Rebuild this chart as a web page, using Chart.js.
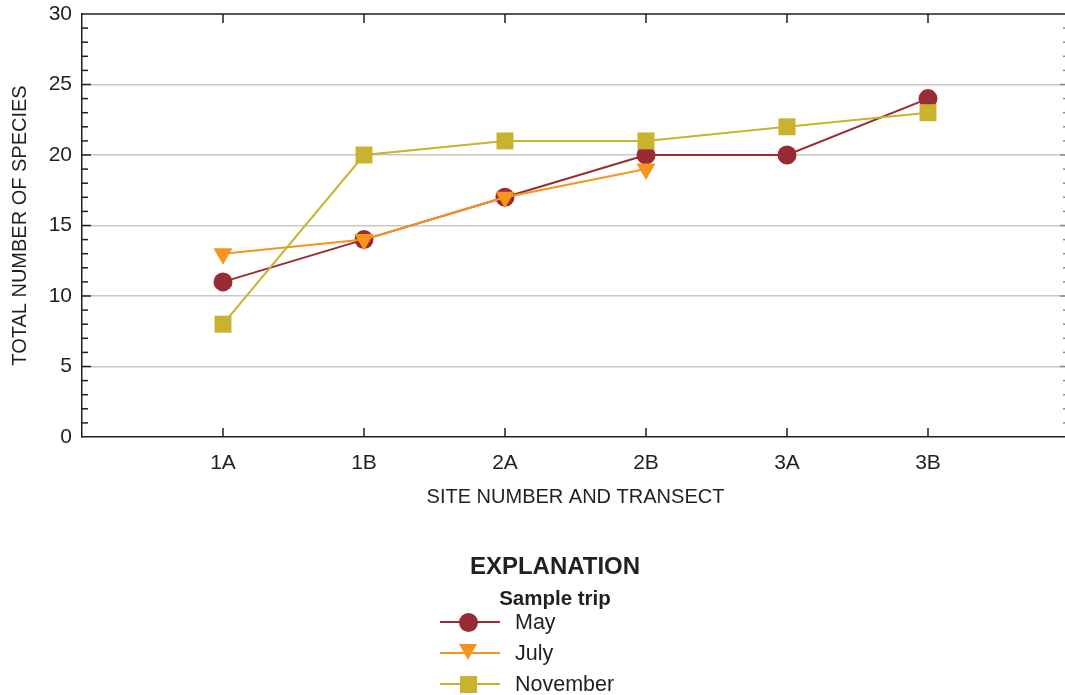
<!DOCTYPE html>
<html>
<head>
<meta charset="utf-8">
<script src="https://cdn.jsdelivr.net/npm/chart.js@4/dist/chart.umd.min.js"></script>
<style>
  html, body { margin: 0; padding: 0; background: #fff; overflow: hidden; }
  #wrap { position: relative; width: 1085px; height: 695px; }
  #legend { position: absolute; left: 0; top: 0; width: 1085px; height: 695px; font-family: "Liberation Sans", Arial, sans-serif; color: #231f20; pointer-events: none; }
  #legend .head { position: absolute; left: 405px; width: 300px; top: 552px; line-height: 28px; text-align: center; font-weight: bold; font-size: 24px; }
  #legend .sub { position: absolute; left: 405px; width: 300px; top: 587px; line-height: 22px; text-align: center; font-weight: bold; font-size: 20.5px; }
  .row { position: absolute; left: 440px; height: 30px; width: 300px; }
  .row .ln { position: absolute; left: 0; top: 14px; width: 60px; height: 2px; }
  .row .mk { position: absolute; }
  .row .tx { position: absolute; left: 75px; top: 2px; line-height: 26px; font-size: 21.5px; }
</style>
</head>
<body>
<div id="wrap">
  <canvas id="myChart" width="1085" height="695"></canvas>
  <div id="legend">
    <div class="head">EXPLANATION</div>
    <div class="sub">Sample trip</div>
  </div>
</div>
<script>
const sites = ['1A', '1B', '2A', '2B', '3A', '3B'];
const may = [11, 14, 17, 20, 20, 24];
const july = [13, 14, 17, 19, null, null];
const november = [8, 20, 21, 21, 22, 23];

const mayColor = 'rgb(152, 43, 52)';
const julyColor = 'rgb(247, 148, 29)';
const novColor = 'rgb(201, 178, 46)';
const textColor = '#231f20';
const fontFamily = '"Liberation Sans", Arial, sans-serif';

function toPoints(values) {
  let points = [];
  values.forEach((v, i) => {
    points.push({ x: i + 1, y: v });
  });
  return points;
}

// frame, inner ticks on all four sides
const frameTicks = {
  id: 'frameTicks',
  beforeDatasetsDraw(chart) {
    const { ctx, chartArea, scales } = chart;
    const x = scales.x, y = scales.y;
    ctx.save();
    ctx.lineWidth = 1.5;
    ctx.strokeStyle = textColor;
    ctx.beginPath();
    ctx.moveTo(chartArea.left, chartArea.top);
    ctx.lineTo(chartArea.right, chartArea.top);
    ctx.lineTo(chartArea.right, chartArea.bottom);
    ctx.stroke();
    for (let v = 1; v < 30; v++) {
      const py = y.getPixelForValue(v);
      const len = v % 5 === 0 ? 9 : 6;
      ctx.strokeStyle = textColor;
      ctx.beginPath();
      ctx.moveTo(chartArea.left, py);
      ctx.lineTo(chartArea.left + len, py);
      ctx.stroke();
      ctx.strokeStyle = '#888';
      ctx.beginPath();
      ctx.moveTo(chartArea.right, py);
      ctx.lineTo(chartArea.right - len, py);
      ctx.stroke();
    }
    ctx.strokeStyle = textColor;
    sites.forEach((s, i) => {
      const px = x.getPixelForValue(i + 1);
      ctx.beginPath();
      ctx.moveTo(px, chartArea.bottom);
      ctx.lineTo(px, chartArea.bottom - 9);
      ctx.moveTo(px, chartArea.top);
      ctx.lineTo(px, chartArea.top + 9);
      ctx.stroke();
    });
    ctx.restore();
  }
};

const ctx = document.getElementById('myChart');

const myChart = new Chart(ctx, {
  type: 'line',
  data: {
    datasets: [{
      label: 'May',
      data: toPoints(may),
      borderColor: mayColor,
      backgroundColor: mayColor,
      pointStyle: 'circle',
      pointRadius: 9.5,
      order: 3
    }, {
      label: 'July',
      data: toPoints(july),
      borderColor: julyColor,
      backgroundColor: julyColor,
      pointStyle: 'triangle',
      rotation: 180,
      pointRadius: 11,
      order: 2
    }, {
      label: 'November',
      data: toPoints(november),
      borderColor: novColor,
      backgroundColor: novColor,
      pointStyle: 'rect',
      pointRadius: 12,
      order: 1
    }]
  },
  options: {
    responsive: false,
    animation: false,
    layout: { padding: { left: 8, top: 14, right: 16, bottom: 186 } },
    elements: {
      line: { borderWidth: 2, tension: 0 },
      point: { borderWidth: 0 }
    },
    plugins: {
      legend: { display: false },
      tooltip: { enabled: false }
    },
    scales: {
      x: {
        type: 'linear',
        min: 0,
        max: 7,
        afterFit: s => { s.height = 72; s.paddingLeft = 0; s.paddingRight = 0; },
        grid: { display: false, drawTicks: false },
        border: { color: textColor, width: 1.5 },
        ticks: {
          stepSize: 1,
          padding: 14,
          color: textColor,
          font: { family: fontFamily, size: 21 },
          callback: v => sites[v - 1] || ''
        },
        title: {
          display: true,
          text: 'SITE NUMBER AND TRANSECT',
          color: textColor,
          font: { family: fontFamily, size: 20 },
          padding: { top: 0, bottom: 0 }
        }
      },
      y: {
        min: 0,
        max: 30,
        afterFit: s => { s.width = 74; s.paddingTop = 0; s.paddingBottom = 0; },
        grid: {
          drawTicks: false,
          lineWidth: 1.5,
          color: c => (c.tick.value === 0 || c.tick.value === 30) ? 'rgba(0,0,0,0)' : '#c8c8c8'
        },
        border: { color: textColor, width: 1.5 },
        ticks: {
          stepSize: 5,
          padding: 10,
          color: textColor,
          font: { family: fontFamily, size: 21 }
        },
        title: {
          display: true,
          text: 'TOTAL NUMBER OF SPECIES',
          color: textColor,
          font: { family: fontFamily, size: 20 },
          padding: { top: 0, bottom: 0 }
        }
      }
    }
  },
  plugins: [frameTicks]
});

// legend built from the chart's datasets
const legendEl = document.getElementById('legend');
myChart.data.datasets.forEach((ds, i) => {
  const row = document.createElement('div');
  row.className = 'row';
  row.style.top = (607 + i * 31) + 'px';
  const ln = document.createElement('div');
  ln.className = 'ln';
  ln.style.background = ds.borderColor;
  const mk = document.createElement('div');
  mk.className = 'mk';
  if (ds.pointStyle === 'circle') {
    Object.assign(mk.style, { left: '18.5px', top: '5.5px', width: '19px', height: '19px', borderRadius: '50%', background: ds.backgroundColor });
  } else if (ds.pointStyle === 'triangle') {
    Object.assign(mk.style, { left: '18.5px', top: '6px', width: 0, height: 0, borderLeft: '9.5px solid transparent', borderRight: '9.5px solid transparent', borderTop: '16.5px solid ' + ds.backgroundColor });
  } else {
    Object.assign(mk.style, { left: '19.5px', top: '6.5px', width: '17px', height: '17px', background: ds.backgroundColor });
  }
  const tx = document.createElement('div');
  tx.className = 'tx';
  tx.textContent = ds.label;
  row.appendChild(ln);
  row.appendChild(mk);
  row.appendChild(tx);
  legendEl.appendChild(row);
});
</script>
</body>
</html>
